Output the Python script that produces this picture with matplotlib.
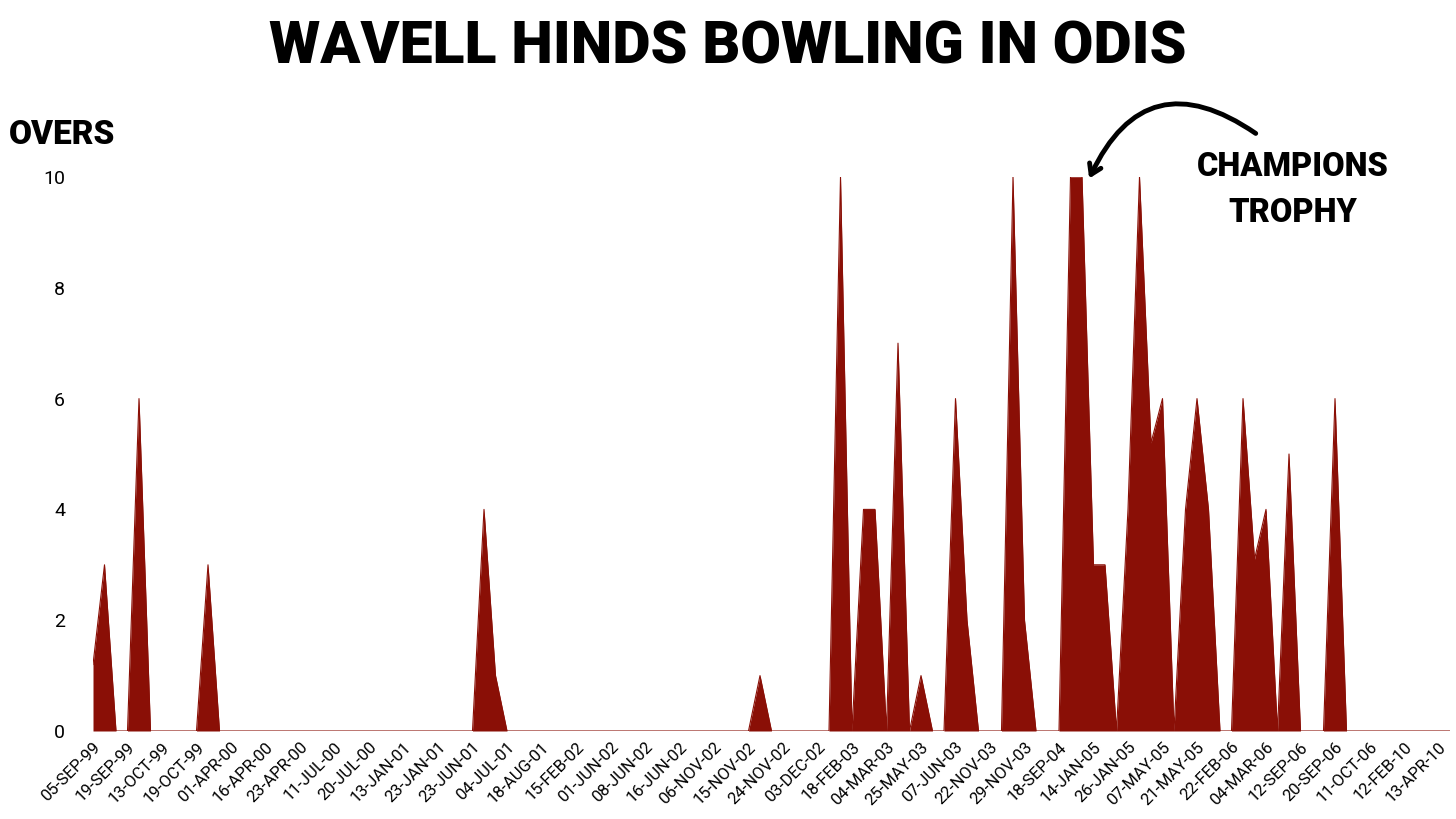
import matplotlib
matplotlib.use("Agg")
import matplotlib.pyplot as plt
import numpy as np

# overs bowled per ODI innings, one value per match
overs = [
    1.2, 3, 0, 0, 6, 0, 0, 0, 0, 0, 3, 0,          # 0-11
    0, 0, 0, 0, 0, 0, 0, 0, 0, 0, 0, 0,            # 12-23
    0, 0, 0, 0, 0, 0, 0, 0, 0, 0, 4, 1,            # 24-35
    0, 0, 0, 0, 0, 0, 0, 0, 0, 0, 0, 0,            # 36-47
    0, 0, 0, 0, 0, 0, 0, 0, 0, 0, 1, 0,            # 48-59
    0, 0, 0, 0, 0, 10, 0, 4, 4, 0, 7, 0,           # 60-71
    1, 0, 0, 6, 2, 0, 0, 0, 10, 2, 0, 0,           # 72-83
    0, 10, 10, 3, 3, 0, 4, 10, 5.2, 6, 0, 4,       # 84-95
    6, 4, 0, 0, 6, 3.1, 4, 0, 5, 0, 0, 0,          # 96-107
    6, 0, 0, 0, 0, 0, 0, 0, 0, 0, 0,               # 108-118
]

# every third match is labelled on the x axis
date_labels = [
    "05-SEP-99", "19-SEP-99", "13-OCT-99", "19-OCT-99", "01-APR-00",
    "16-APR-00", "23-APR-00", "11-JUL-00", "20-JUL-00", "13-JAN-01",
    "23-JAN-01", "23-JUN-01", "04-JUL-01", "18-AUG-01", "15-FEB-02",
    "01-JUN-02", "08-JUN-02", "16-JUN-02", "06-NOV-02", "15-NOV-02",
    "24-NOV-02", "03-DEC-02", "18-FEB-03", "04-MAR-03", "25-MAY-03",
    "07-JUN-03", "22-NOV-03", "29-NOV-03", "18-SEP-04", "14-JAN-05",
    "26-JAN-05", "07-MAY-05", "21-MAY-05", "22-FEB-06", "04-MAR-06",
    "12-SEP-06", "20-SEP-06", "11-OCT-06", "12-FEB-10", "13-APR-10",
]

red = "#8a0f06"
fonts = ["Roboto", "DejaVu Sans"]

x = np.arange(len(overs))

fig = plt.figure(figsize=(14.56, 8.19), dpi=100)
ax = fig.add_axes([93 / 1456, 1 - 731 / 819, (1450 - 93) / 1456, (731 - 177) / 819])

ax.fill_between(x, overs, 0, color=red, lw=0)
ax.plot(x, overs, color=red, lw=0.8)

ax.set_xlim(0, len(overs) - 1)
ax.set_ylim(0, 10)
for s in ax.spines.values():
    s.set_visible(False)

ax.set_xticks(x[::3])
ax.set_xticklabels(date_labels, rotation=45, ha="right", va="top",
                   rotation_mode="anchor", family=fonts, fontsize=12)
ax.set_yticks([0, 2, 4, 6, 8, 10])
ax.set_yticklabels(["0", "2", "4", "6", "8", "10"], family=fonts, fontsize=14)
ax.tick_params(axis="both", length=0)
ax.tick_params(axis="y", pad=20)
ax.tick_params(axis="x", pad=6)

fig.text(0.5, 1 - 48 / 819, "WAVELL HINDS BOWLING IN ODIS", ha="center", va="center",
         fontsize=42.5, fontweight="black", family=fonts)
fig.text(62 / 1456, 1 - 135 / 819, "OVERS", ha="center", va="center",
         fontsize=24, fontweight="black", family=fonts)
fig.text(1293 / 1456, 1 - 190 / 819, "CHAMPIONS\nTROPHY", ha="center", va="center",
         fontsize=23.5, fontweight="black", family=fonts, linespacing=1.6)

ax.annotate("", xy=(1088 / 1456, 1 - 181 / 819), xycoords="figure fraction",
            xytext=(1258 / 1456, 1 - 135 / 819), textcoords="figure fraction",
            arrowprops=dict(arrowstyle="->,head_length=0.7,head_width=0.45",
                            connectionstyle="arc3,rad=0.6", lw=3.5, color="black"))

fig.savefig("out.png", dpi=100)
